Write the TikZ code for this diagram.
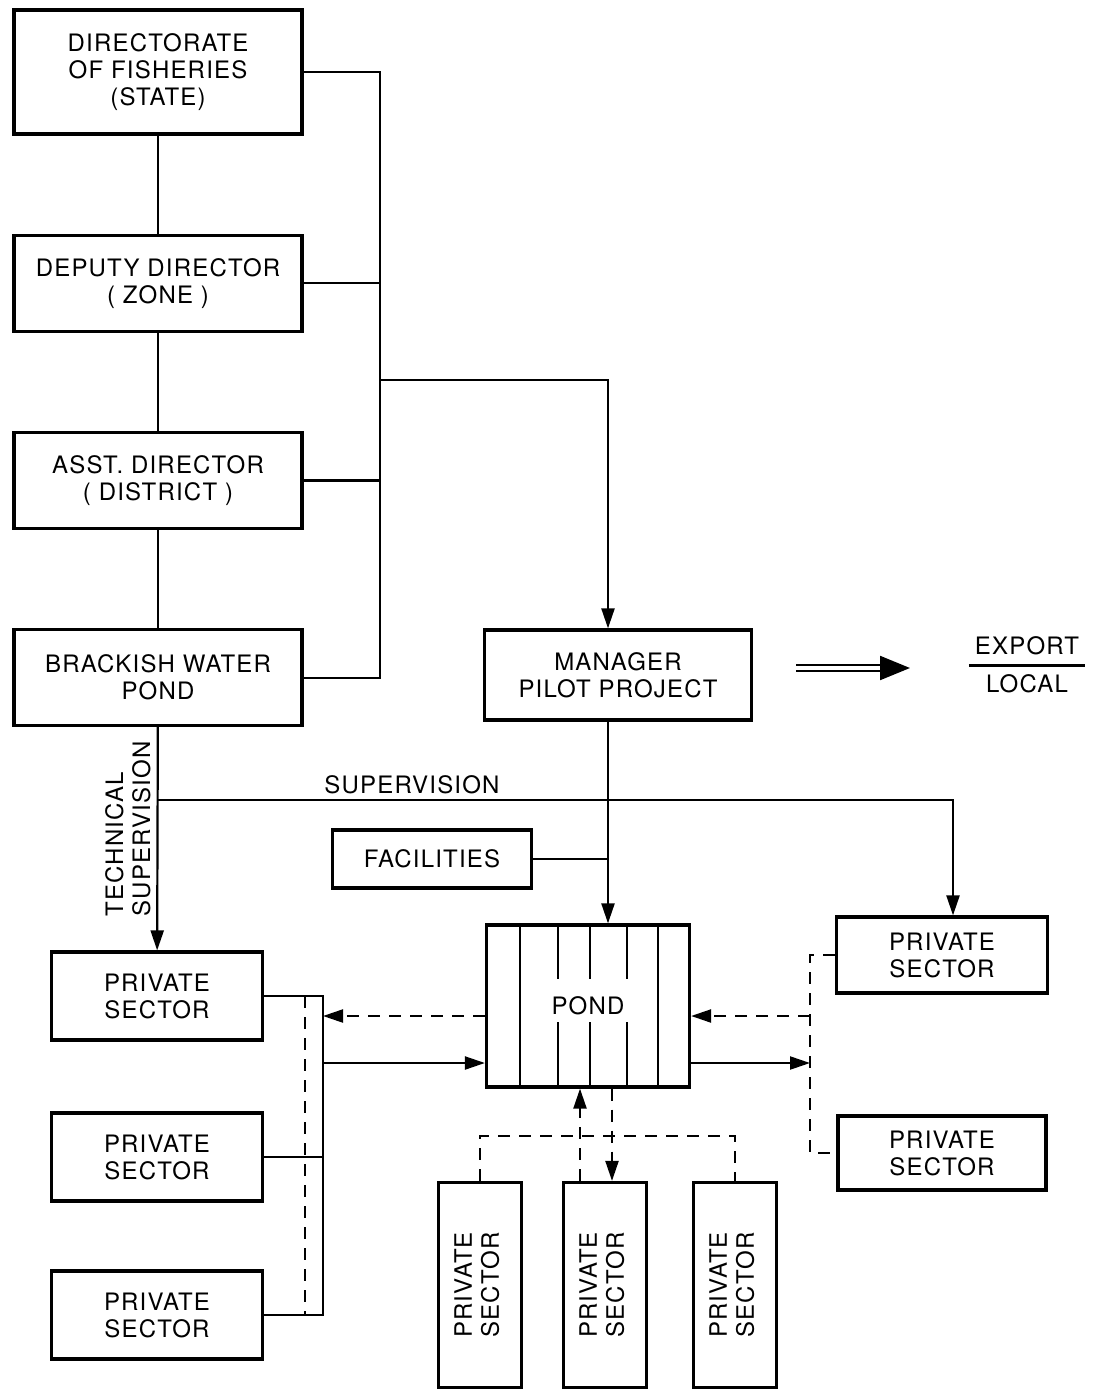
\documentclass[tikz,border=0pt]{standalone}
\usepackage{fontspec}
\setsansfont{TeX Gyre Heros}[LetterSpace=5]
\usepackage{graphicx}
\usetikzlibrary{arrows.meta,positioning}
\newcommand{\lbl}{\sffamily\fontsize{12}{13.5}\selectfont}
\tikzset{
  box/.style={draw, line width=1.6pt, align=center, inner sep=2pt, font=\lbl},
  orgbox/.style={box, minimum width=144pt, minimum height=48pt},
  psbox/.style={box, minimum width=105.5pt, minimum height=44pt},
  psvert/.style={box, minimum width=41.5pt, minimum height=102.5pt},
  ln/.style={line width=1.1pt},
  arr/.style={ln, -{Triangle[length=10pt, width=6.5pt]}},
  dsh/.style={ln, dash pattern=on 6pt off 4.5pt},
  darr/.style={arr, dash pattern=on 6pt off 4.5pt},
  dbl/.style={double, double distance=2.2pt, line width=1.1pt, -{Triangle[length=15pt, width=12pt]}},
}
\newcommand{\psv}{\rotatebox{90}{\begin{tabular}{@{}c@{}}PRIVATE\\SECTOR\end{tabular}}}

\begin{document}
\begin{tikzpicture}[x=0.5pt, y=-0.5pt, node distance=49pt]
\useasboundingbox (0,0) rectangle (1096,1391);
% administration column
\node[orgbox, minimum height=62pt] (dir) at (158,72) {DIRECTORATE\\OF FISHERIES\\(STATE)};
\node[orgbox, below=of dir] (dep) {DEPUTY DIRECTOR\\( ZONE )};
\node[orgbox, below=of dep] (asst) {ASST. DIRECTOR\\( DISTRICT )};
\node[orgbox, below=of asst] (brk) {BRACKISH WATER\\POND};
% project
\node[box, minimum width=133.5pt, minimum height=45pt] (mgr) at (618,675) {MANAGER\\PILOT PROJECT};
\node[font=\lbl, inner sep=0pt] (trade) at (1027,668) {\setlength{\tabcolsep}{3pt}\setlength{\arrayrulewidth}{1.1pt}\begin{tabular}{c}EXPORT\\[1pt]\hline\rule{0pt}{13pt}LOCAL\end{tabular}};
\coordinate (tip) at (910,668);
\node[box, minimum width=99.5pt, minimum height=29pt] (fac) at (432,859) {FACILITIES};
\node[box, minimum width=101.5pt, minimum height=81pt] (pond) at (588,1006) {POND};
% private sector
\node[psbox] (psl1) at (157,996) {PRIVATE\\SECTOR};
\node[psbox] (psl2) at (157,1157) {PRIVATE\\SECTOR};
\node[psbox] (psl3) at (157,1315) {PRIVATE\\SECTOR};
\node[psbox, minimum height=38pt] (psr1) at (942,955) {PRIVATE\\SECTOR};
\node[psbox, minimum height=37pt, minimum width=104pt] (psr2) at (942,1153) {PRIVATE\\SECTOR};
\node[psvert] (psb1) at (480,1285) {\psv};
\node[psvert] (psb2) at (605,1285) {\psv};
\node[psvert] (psb3) at (735,1285) {\psv};
% chain of command
\draw[ln] (dir) -- (dep) (dep) -- (asst) (asst) -- (brk);
\coordinate (bus) at (380,380);
\draw[ln] (dir.east) -| (bus) |- (brk.east);
\draw[ln] (dep.east) -- (dep.east -| bus);
\draw[ln] (asst.east) -- (asst.east -| bus);
\coordinate (trunk) at (608,855);
\draw[arr] (bus) -| (mgr.north -| trunk);
\draw[arr] (mgr.south -| trunk) -- (pond.north -| trunk);
\draw[ln] (fac.east) -- (fac.east -| trunk);
\draw[dbl, shorten <=21.5pt] (mgr.east |- trade) -- (tip);
% supervision
\coordinate (sup) at (157,800);
\draw[arr] (brk) -- (psl1);
\draw[arr] (sup) -| ([xshift=5.5pt]psr1.north);
\node[font=\lbl, anchor=south, inner sep=3pt] (suplbl) at (412,800) {SUPERVISION};
\node[font=\lbl, rotate=90, align=left] (techlbl) at (128,829) {TECHNICAL\\SUPERVISION};
% pond partitions
\foreach \x in {520,658} \draw[ln] (\x,0 |- pond.north) -- (\x,0 |- pond.south);
\foreach \x in {558,590,627} {
  \draw[ln] (\x,0 |- pond.north) -- (\x,979);
  \draw[ln] (\x,1022) -- (\x,0 |- pond.south);
}
% left group
\coordinate (lbus) at (323,0);
\coordinate (ldash) at (305,0);
\coordinate (rin) at (0,1016);
\coordinate (rout) at (0,1063);
\draw[ln] (psl1.east) -- (psl1.east -| lbus) -- (psl3.east -| lbus) -- (psl3.east);
\draw[ln] (psl2.east) -- (psl2.east -| lbus);
\draw[dsh] (psl1.east -| ldash) -- (psl3.east -| ldash);
\draw[darr] (pond.west |- rin) -- (lbus |- rin);
\draw[arr] (lbus |- rout) -- (pond.west |- rout);
% right group
\coordinate (rbus) at (810,0);
\draw[dsh] (psr1.west) -- (psr1.west -| rbus) -- (psr2.west -| rbus) -- (psr2.west);
\draw[darr] (rbus |- rin) -- (pond.east |- rin);
\draw[arr] (pond.east |- rout) -- (rbus |- rout);
% bottom group
\coordinate (bh) at (0,1136);
\coordinate (bup) at (580,0);
\coordinate (bdn) at (612,0);
\draw[dsh] (psb1.north) -- (psb1.north |- bh) -- (psb3.north |- bh) -- (psb3.north);
\draw[darr] (psb2.north -| bup) -- (pond.south -| bup);
\draw[darr] (pond.south -| bdn) -- (psb2.north -| bdn);
\end{tikzpicture}
\end{document}
